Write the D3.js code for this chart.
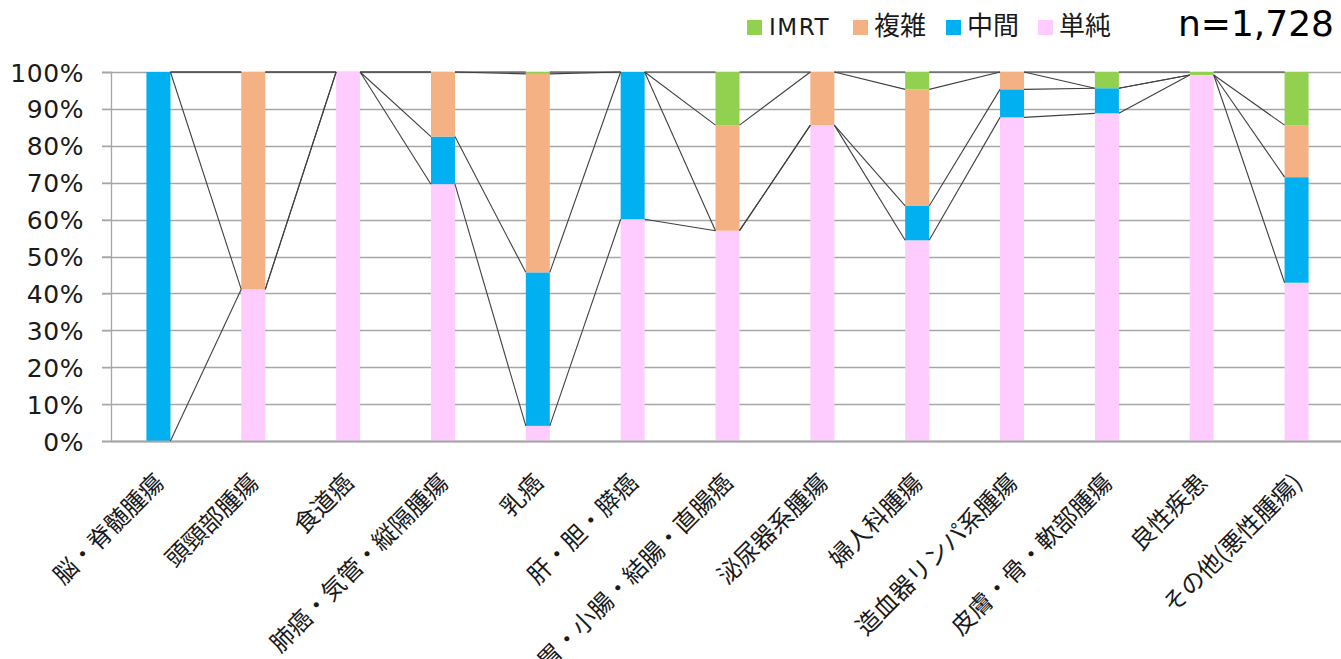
<!DOCTYPE html>
<html>
<head>
<meta charset="utf-8">
<script src="https://cdn.jsdelivr.net/npm/d3@7"></script>
<style>
  html, body { margin: 0; padding: 0; background: #ffffff; }
  svg { display: block; }
</style>
</head>
<body>
<div id="chart"></div>
<script>
// ---- data (percent of cases per category) ----
const categories = ["脳・脊髄腫瘍", "頭頸部腫瘍", "食道癌", "肺癌・気管・縦隔腫瘍", "乳癌", "肝・胆・膵癌",
  "胃・小腸・結腸・直腸癌", "泌尿器系腫瘍", "婦人科腫瘍", "造血器リンパ系腫瘍", "皮膚・骨・軟部腫瘍", "良性疾患", "その他(悪性腫瘍)"];
const seriesNames = ["単純", "中間", "複雑", "IMRT"];          // bottom -> top
const simpleVals  = [0,   41.1, 100, 69.6,  4.1, 60.1, 57.0, 85.6, 54.4, 87.7, 88.8, 99.2, 42.9];
const middleVals  = [100, 0,    0,   12.9, 41.6, 39.9, 0,    0,    9.3,  7.6,  6.8,  0,    28.6];
const complexVals = [0,   58.9, 0,   17.5, 53.8, 0,    28.6, 14.4, 31.6, 4.7,  0,    0,    14.1];
const imrtVals    = [0,   0,    0,   0,     0.5, 0,    14.4, 0,    4.7,  0,    4.4,  0.8,  14.4];
const yTickValues = [0, 10, 20, 30, 40, 50, 60, 70, 80, 90, 100];
const legendOrder = ["IMRT", "複雑", "中間", "単純"];
const sampleLabel = "n=1,728";

// ---- styles ----
const colors = { "単純": "#ffccff", "中間": "#00b0f0", "複雑": "#f4b183", "IMRT": "#92d050" };
const W = 1341, H = 659;
const m = { left: 111, right: -3, top: 72, bottom: 218 };
const plotW = W - m.left - m.right, plotH = H - m.top - m.bottom;

const svg = d3.select("#chart").append("svg").attr("width", W).attr("height", H);
const g = svg.append("g").attr("transform", `translate(${m.left},${m.top})`);

const table = categories.map((c, i) => ({
  cat: c, "単純": simpleVals[i], "中間": middleVals[i], "複雑": complexVals[i], "IMRT": imrtVals[i]
}));
const stacked = d3.stack().keys(seriesNames)(table);

const x = d3.scaleBand().domain(categories).range([0, plotW]).padding(0);
const y = d3.scaleLinear().domain([0, 100]).range([plotH, 0]);
const barW = x.step() * 0.253;
const cx = c => x(c) + x.bandwidth() / 2;

// gridlines
g.append("g").selectAll("line").data(yTickValues).join("line")
  .attr("x1", -9).attr("x2", plotW)
  .attr("y1", d => Math.round(y(d)) + 0.5).attr("y2", d => Math.round(y(d)) + 0.5)
  .attr("stroke", "#a6a6a6").attr("stroke-width", 1.3);

// y axis
const yAxis = g.append("g").call(d3.axisLeft(y).tickValues(yTickValues).tickSize(9).tickPadding(18).tickFormat(d => d + "%"));
yAxis.select(".domain").attr("stroke", "#a6a6a6").attr("stroke-width", 1.3);
yAxis.selectAll(".tick line").attr("stroke", "#a6a6a6").attr("stroke-width", 1.3);
yAxis.selectAll(".tick text")
  .attr("font-family", "'DejaVu Sans', Verdana, sans-serif")
  .attr("font-size", 25).attr("letter-spacing", 0.6).attr("fill", "#1a1a1a").attr("dy", "0.36em");

// bars
g.append("g").selectAll("g").data(stacked).join("g")
  .attr("fill", d => colors[d.key])
  .selectAll("rect").data(d => d).join("rect")
  .attr("x", d => cx(d.data.cat) - barW / 2)
  .attr("width", barW)
  .attr("y", d => y(d[1]))
  .attr("height", d => Math.max(0, y(d[0]) - y(d[1])));

// bottom axis line
g.append("line").attr("x1", 0).attr("x2", plotW).attr("y1", plotH + 0.5).attr("y2", plotH + 0.5)
  .attr("stroke", "#a6a6a6").attr("stroke-width", 2);

// series lines (connect segment tops between adjacent bars)
const seriesLine = g.append("g").attr("fill", "none").attr("stroke", "#404040").attr("stroke-width", 1.1);
stacked.forEach(s => {
  for (let i = 0; i < s.length - 1; i++) {
    seriesLine.append("line")
      .attr("x1", cx(categories[i]) + barW / 2).attr("y1", y(s[i][1]))
      .attr("x2", cx(categories[i + 1]) - barW / 2).attr("y2", y(s[i + 1][1]));
  }
});

// x axis labels
const xAxis = g.append("g").attr("transform", `translate(0,${plotH})`)
  .call(d3.axisBottom(x).tickSize(0).tickPadding(0));
xAxis.select(".domain").remove();
xAxis.selectAll(".tick text")
  .attr("font-family", "'Noto Sans CJK JP', sans-serif")
  .attr("font-size", 24).attr("fill", "#1a1a1a")
  .attr("text-anchor", "end")
  .attr("dy", 0).attr("y", 0)
  .attr("transform", "translate(7,43) rotate(-45)");

// legend
const legendX = [747, 853, 946, 1038];
const lg = svg.append("g");
legendOrder.forEach((k, i) => {
  lg.append("rect").attr("x", legendX[i]).attr("y", 20).attr("width", 15).attr("height", 15).attr("fill", colors[k]);
  const cjk = /[\u3000-\u9fff]/.test(k);
  lg.append("text").attr("x", legendX[i] + (cjk ? 21 : 22)).attr("y", 35)
    .attr("font-family", cjk ? "'Noto Sans CJK JP', sans-serif" : "'DejaVu Sans', sans-serif")
    .attr("font-size", cjk ? 26 : 23)
    .attr("letter-spacing", cjk ? 0 : 1.5)
    .attr("fill", "#1a1a1a").text(k);
});
svg.append("text").attr("x", 1334).attr("y", 36).attr("text-anchor", "end")
  .attr("font-family", "'DejaVu Sans', sans-serif").attr("font-size", 36).attr("fill", "#000")
  .text(sampleLabel);
</script>
</body>
</html>
